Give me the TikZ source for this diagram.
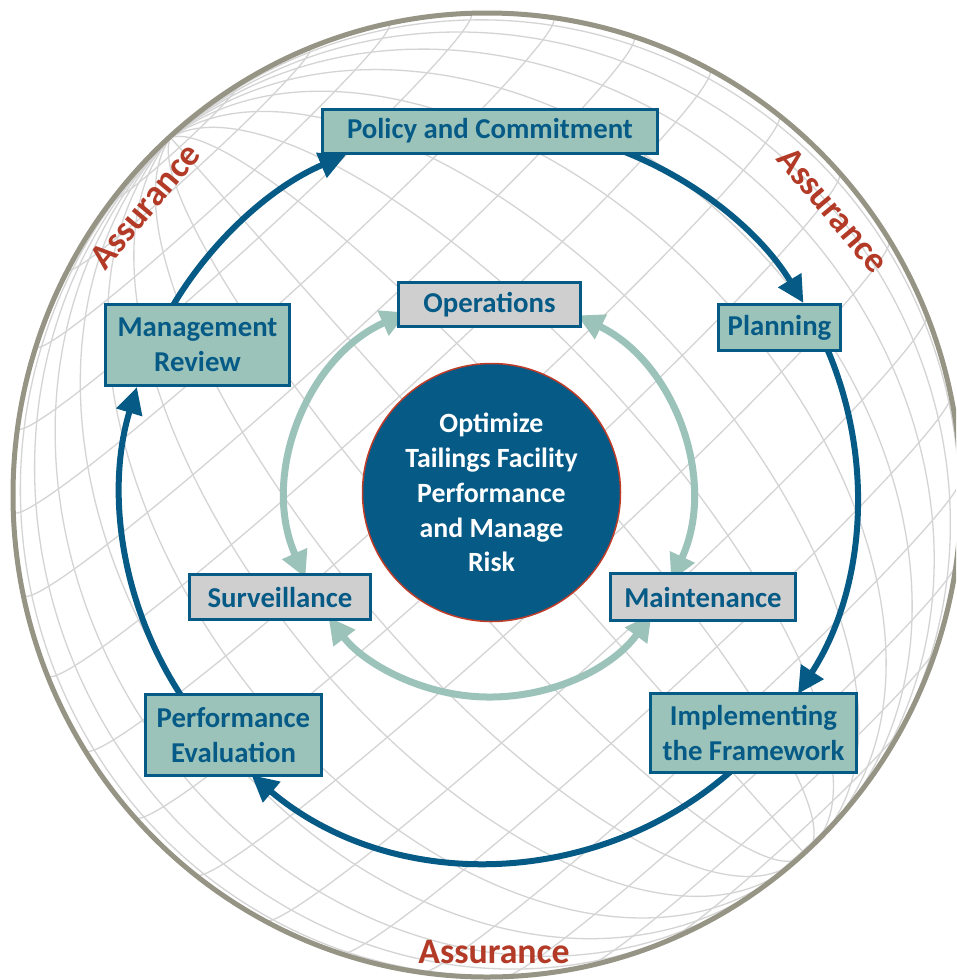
\documentclass[tikz,border=0pt]{standalone}
\usepackage{fontspec}
\setmainfont{Carlito}
\usetikzlibrary{arrows.meta,calc}
\newdimen\pxu \pxu=0.0265cm
\definecolor{dblue}{RGB}{6,90,134}
\definecolor{lteal}{RGB}{156,195,186}
\definecolor{lgray}{RGB}{207,207,207}
\definecolor{ringgray}{RGB}{150,148,132}
\definecolor{gridgray}{RGB}{212,212,212}
\definecolor{assred}{RGB}{178,58,38}
\definecolor{circred}{RGB}{190,60,40}
\begin{document}
\begin{tikzpicture}[x=0.0265cm, y=-0.0265cm,
  gridline/.style={draw=gridgray, line width=1.3\pxu},
  mbox/.style={draw=dblue, line width=3\pxu, fill=lteal, text=dblue, inner sep=0pt, align=center,
    font=\fontsize{21.7}{26.3}\selectfont\bfseries},
  gbox/.style={mbox, fill=lgray},
  cyc/.style={draw=dblue, line width=6\pxu, -{Triangle[length=20pt,width=19.5pt]}},
  inn/.style={draw=lteal, line width=7\pxu, {Triangle[length=20pt,width=19.5pt]}-{Triangle[length=20pt,width=19.5pt]}},
  assure/.style={text=assred, inner sep=0pt, font=\fontsize{27}{30}\selectfont\bfseries}
]
\useasboundingbox (0,0) rectangle (956,980);
\clip (0,0) rectangle (956,980);
\fill[white] (0,0) rectangle (956,980);

% globe graticule (poles near the upper left and lower right limb)
\begin{scope}
  \clip (487,495) ellipse [x radius=474, y radius=482];
  \pgfmathsetmacro\al{4}
  \pgfmathsetmacro\be{42}
  \foreach \l in {0,10,...,170}{
    \pgfmathsetmacro\dd{atan2(sin(\al), cos(\l)*cos(\al))}
    \pgfmathsetmacro\ta{\dd-90}
    \pgfmathsetmacro\tb{\dd+90}
    \draw[gridline] plot[domain=\ta:\tb, samples=60, variable=\vv, smooth]
      ({487+474*( cos(\vv)*sin(\l)*cos(\be) - (sin(\vv)*cos(\al)-cos(\vv)*cos(\l)*sin(\al))*sin(\be) )},
       {495-482*( cos(\vv)*sin(\l)*sin(\be) + (sin(\vv)*cos(\al)-cos(\vv)*cos(\l)*sin(\al))*cos(\be) )});
  }
  \foreach \p in {-80,-70,...,80}{
    \pgfmathsetmacro\kk{-tan(\p)*tan(\al)}
    \pgfmathsetmacro\lm{acos(max(-1,min(1,\kk)))}
    \ifdim\lm pt>0.5pt
      \draw[gridline] plot[domain=-\lm:\lm, samples=60, variable=\vv, smooth]
        ({487+474*( cos(\p)*sin(\vv)*cos(\be) - (sin(\p)*cos(\al)-cos(\p)*cos(\vv)*sin(\al))*sin(\be) )},
         {495-482*( cos(\p)*sin(\vv)*sin(\be) + (sin(\p)*cos(\al)-cos(\p)*cos(\vv)*sin(\al))*cos(\be) )});
    \fi
  }
\end{scope}

% outer ring
\draw[ringgray, line width=5\pxu] (487,495) ellipse [x radius=474, y radius=482];

% Assurance labels
\node[assure, rotate=50]  (as1) at (145,206) {Assurance};
\node[assure, rotate=-50] (as2) at (833,210) {Assurance};
\node[assure]             (as3) at (494,952) {Assurance};

% centres of the rings
\coordinate (cc) at (489,494);
\coordinate (ic) at (489,496);

% main management cycle
\draw[cyc] ($(cc)+(-70:368)$)  arc[start angle=-70,  end angle=-31.3, radius=368];
\draw[cyc] ($(cc)+(-24:368)$)  arc[start angle=-24,  end angle=32.9,  radius=368];
\draw[cyc] ($(cc)+(48:368)$)   arc[start angle=48,   end angle=130.2, radius=368];
\draw[cyc] ($(cc)+(146:368)$)  arc[start angle=146,  end angle=196.9, radius=368];
\draw[cyc] ($(cc)+(210:368)$)  arc[start angle=210,  end angle=247.1, radius=368];

% inner operations cycle
\draw[inn] ($(ic)+(156:201)$) arc[start angle=156, end angle=246, radius=201];
\draw[inn] ($(ic)+(-64:201)$) arc[start angle=-64, end angle=25,  radius=201];
\draw[inn] ($(ic)+(36:201)$)  arc[start angle=36,  end angle=143, radius=201];

% boxes
\node[mbox, minimum width=335\pxu, minimum height=44\pxu] (pol) at (490,131) {Policy and Commitment};
\node[mbox, minimum width=122\pxu, minimum height=46\pxu] (pla) at (779.5,327.5) {Planning};
\node[mbox, minimum width=206\pxu, minimum height=79\pxu] (imp) at (753.5,733) {Implementing\\the Framework};
\node[mbox, minimum width=176\pxu, minimum height=81\pxu] (per) at (233.5,735) {Performance\\Evaluation};
\node[mbox, minimum width=184\pxu, minimum height=81\pxu] (man) at (197.5,345) {Management\\Review};
\node[gbox, minimum width=182\pxu, minimum height=44\pxu] (ope) at (489.5,304.5) {Operations};
\node[gbox, minimum width=181\pxu, minimum height=45\pxu] (sur) at (280,597) {Surveillance};
\node[gbox, minimum width=185\pxu, minimum height=47\pxu] (mai) at (703,597) {Maintenance};

% centre
\node[circle, fill=dblue, draw=circred, line width=1.5\pxu, minimum size=258\pxu, inner sep=0pt,
      text=white, align=center, font=\fontsize{21}{26.3}\selectfont\bfseries]
  (ctr) at (491.5,492.5) {Optimize\\Tailings Facility\\Performance\\and Manage\\Risk};
\end{tikzpicture}
\end{document}
